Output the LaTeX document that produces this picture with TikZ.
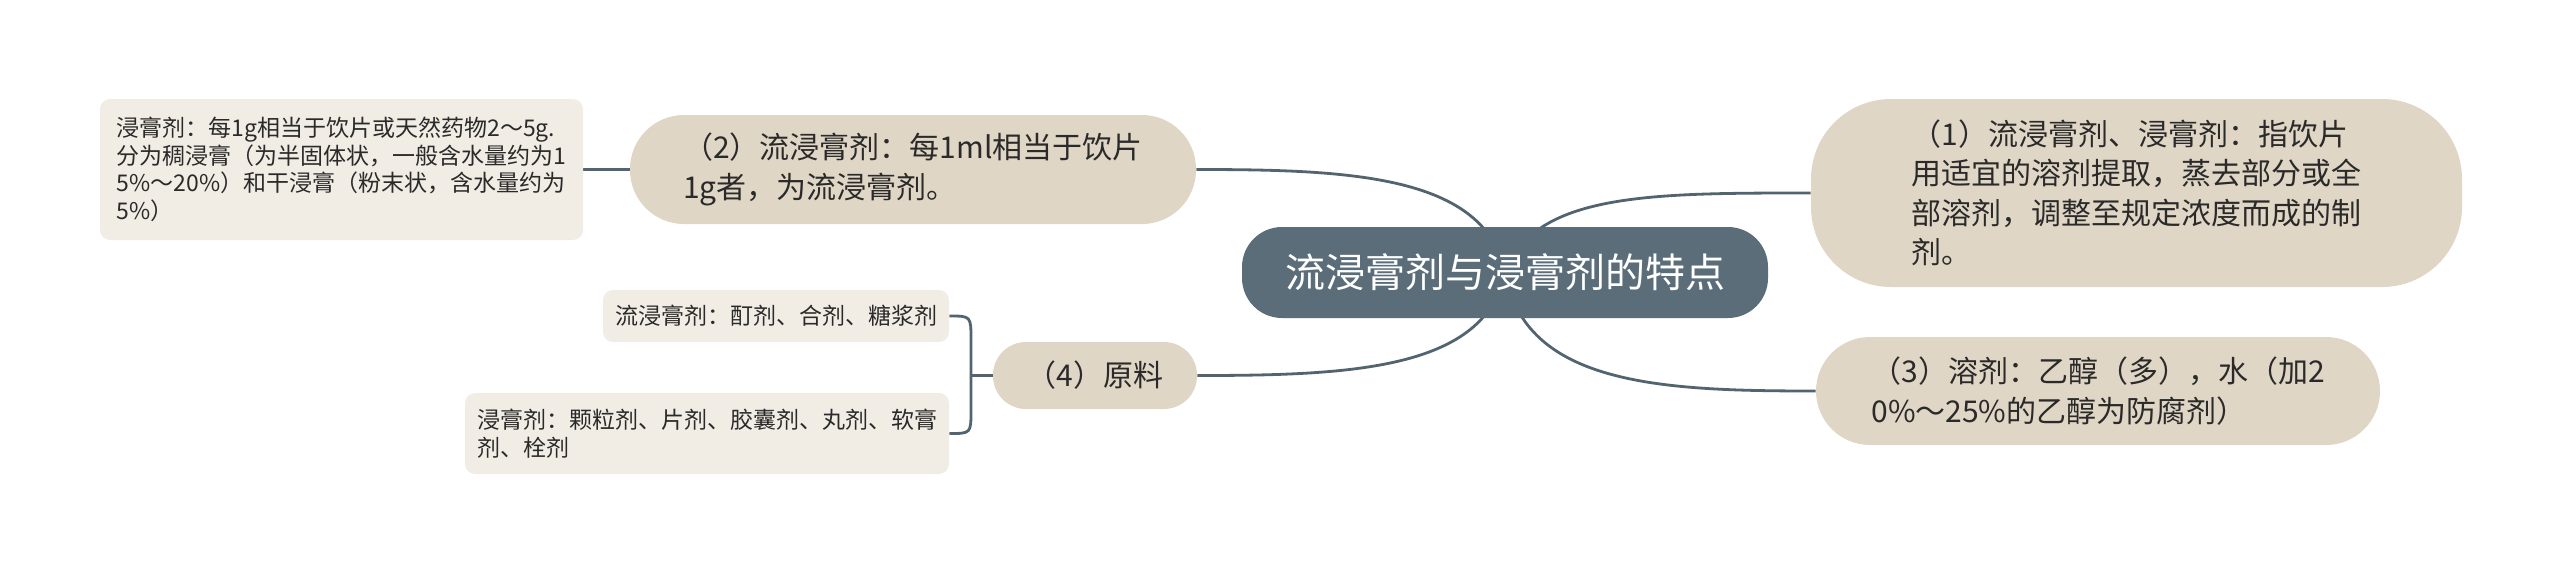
\documentclass[tikz,border=0pt]{standalone}
\usepackage{fontspec}
\newfontfamily\cjk{Noto Sans CJK SC}
\pgfdeclarelayer{background}
\pgfsetlayers{background,main}
\definecolor{rootfill}{HTML}{5B6D79}
\definecolor{linecol}{HTML}{52646F}
\definecolor{mainfill}{HTML}{E0D6C6}
\definecolor{leaffill}{HTML}{F1EDE5}
\definecolor{txt}{HTML}{2A2A2A}
\tikzset{
  rootbox/.style={fill=rootfill, text=white, rounded corners=20pt, inner sep=0pt,
    minimum width=263pt, minimum height=45.5pt,
    font=\cjk\fontsize{20}{24}\selectfont},
  mainbox/.style={fill=mainfill, text=txt, inner sep=0pt, align=left,
    font=\cjk\fontsize{15}{19.75}\selectfont},
  leafbox/.style={fill=leaffill, text=txt, inner sep=0pt, align=left, rounded corners=5pt,
    font=\cjk\fontsize{11.5}{13.75}\selectfont},
  conn/.style={draw=linecol, line width=1.4pt},
}
\begin{document}
\begin{tikzpicture}[x=0.5pt,y=-0.5pt]
\useasboundingbox (0,0) rectangle (2560,574);
\node[rootbox] (root) at (1505,272.5) {流浸膏剂与浸膏剂的特点};
\node[mainbox, minimum width=325.5pt, minimum height=94pt, rounded corners=40pt] (n1) at (2136.5,193)
  {（1）流浸膏剂、浸膏剂：指饮片\\用适宜的溶剂提取，蒸去部分或全\\部溶剂，调整至规定浓度而成的制\\剂。};
\node[mainbox, minimum width=282pt, minimum height=54pt, rounded corners=27pt] (n3) at (2098,391)
  {（3）溶剂：乙醇（多），水（加2\\0\%～25\%的乙醇为防腐剂）};
\node[mainbox, minimum width=283pt, minimum height=54.5pt, rounded corners=27pt] (n2) at (913,169.5)
  {（2）流浸膏剂：每1ml相当于饮片\\1g者，为流浸膏剂。};
\node[mainbox, minimum width=102pt, minimum height=33.5pt, rounded corners=16.5pt] (n4) at (1095,375.5)
  {（4）原料};
\node[leafbox, minimum width=241.5pt, minimum height=70.5pt] (l2a) at (341.5,169.5)
  {浸膏剂：每1g相当于饮片或天然药物2～5g.\\分为稠浸膏（为半固体状，一般含水量约为1\\5\%～20\%）和干浸膏（粉末状，含水量约为\\5\%）};
\node[leafbox, minimum width=173pt, minimum height=26pt] (l4a) at (776,316)
  {流浸膏剂：酊剂、合剂、糖浆剂};
\node[leafbox, minimum width=242pt, minimum height=40.5pt] (l4b) at (707,433.5)
  {浸膏剂：颗粒剂、片剂、胶囊剂、丸剂、软膏\\剂、栓剂};
\coordinate (bx) at (971,375.5);
\begin{pgfonlayer}{background}
\draw[conn] (root.center) .. controls (1535,193) and (1650,193) .. (n1.west);
\draw[conn] (root.center) .. controls (1525,385) and (1660,391) .. (n3.west);
\draw[conn] (root.center) .. controls (1485,175) and (1350,169.5) .. (n2.east);
\draw[conn] (root.center) .. controls (1485,370) and (1350,375.5) .. (n4.east);
\draw[conn] (l2a.east) -- (n2.west);
\draw[conn] (l4a.east) .. controls (971,316) .. (971,340) -- (971,410) .. controls (971,433.5) .. (l4b.east);
\draw[conn] (bx) -- (n4.west);
\end{pgfonlayer}
\end{tikzpicture}
\end{document}
